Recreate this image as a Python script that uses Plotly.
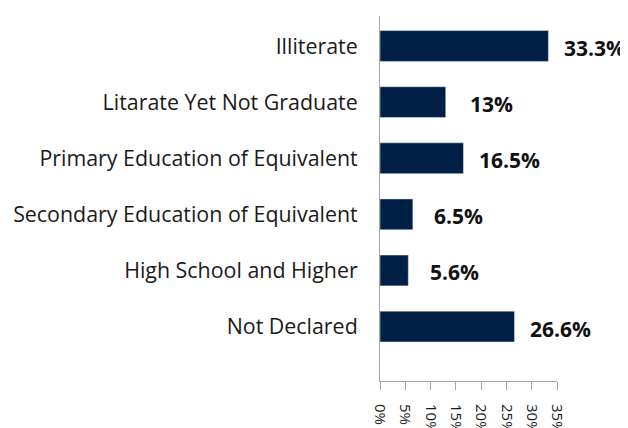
import plotly.graph_objects as go

categories = [
    "Illiterate",
    "Litarate Yet Not Graduate",
    "Primary Education of Equivalent",
    "Secondary Education of Equivalent",
    "High School and Higher",
    "Not Declared",
]
shares = [33.3, 13, 16.5, 6.5, 5.6, 26.6]
share_labels = ["33.3%", "13%", "16.5%", "6.5%", "5.6%", "26.6%"]
tick_vals = [0, 5, 10, 15, 20, 25, 30, 35]
tick_text = ["0%", "5%", "10%", "15%", "20%", "25%", "30%", "35%"]

fig = go.Figure()
fig.add_trace(go.Bar(
    x=shares, y=categories, orientation="h",
    marker_color="#001f45", width=0.55,
))

# value labels sit a bit right of each bar end
for c, v, t in zip(categories, shares, share_labels):
    fig.add_annotation(x=v, y=c, text="<b>" + t + "</b>", showarrow=False,
                       xanchor="center", xshift=46, yshift=-2,
                       font=dict(size=21, color="#111111"))

# page body adds 8px offset, margins account for it
fig.update_layout(
    width=628, height=428,
    margin=dict(l=372, r=79, t=8, b=55),
    plot_bgcolor="white", paper_bgcolor="white",
    font=dict(family="Open Sans", color="#1a1a1a"),
    showlegend=False,
)
fig.update_xaxes(
    range=[0, 35], tickvals=tick_vals, ticktext=tick_text,
    tickangle=90, tickfont=dict(size=15, color="#1a1a1a"),
    showgrid=False, zeroline=False, automargin=False,
    showline=True, linecolor="#a6a6a6", linewidth=1,
    ticks="outside", tickcolor="#a6a6a6", ticklen=8,
    ticklabelstandoff=11,
)
fig.update_yaxes(
    categoryorder="array", categoryarray=categories,
    range=[5.97, -0.535], tickfont=dict(size=21.4, color="#1a1a1a"),
    showgrid=False, zeroline=False, automargin=False,
    showline=True, linecolor="#a6a6a6", linewidth=1,
    ticks="", ticklabelstandoff=17,
)

fig.write_html("out.html")
